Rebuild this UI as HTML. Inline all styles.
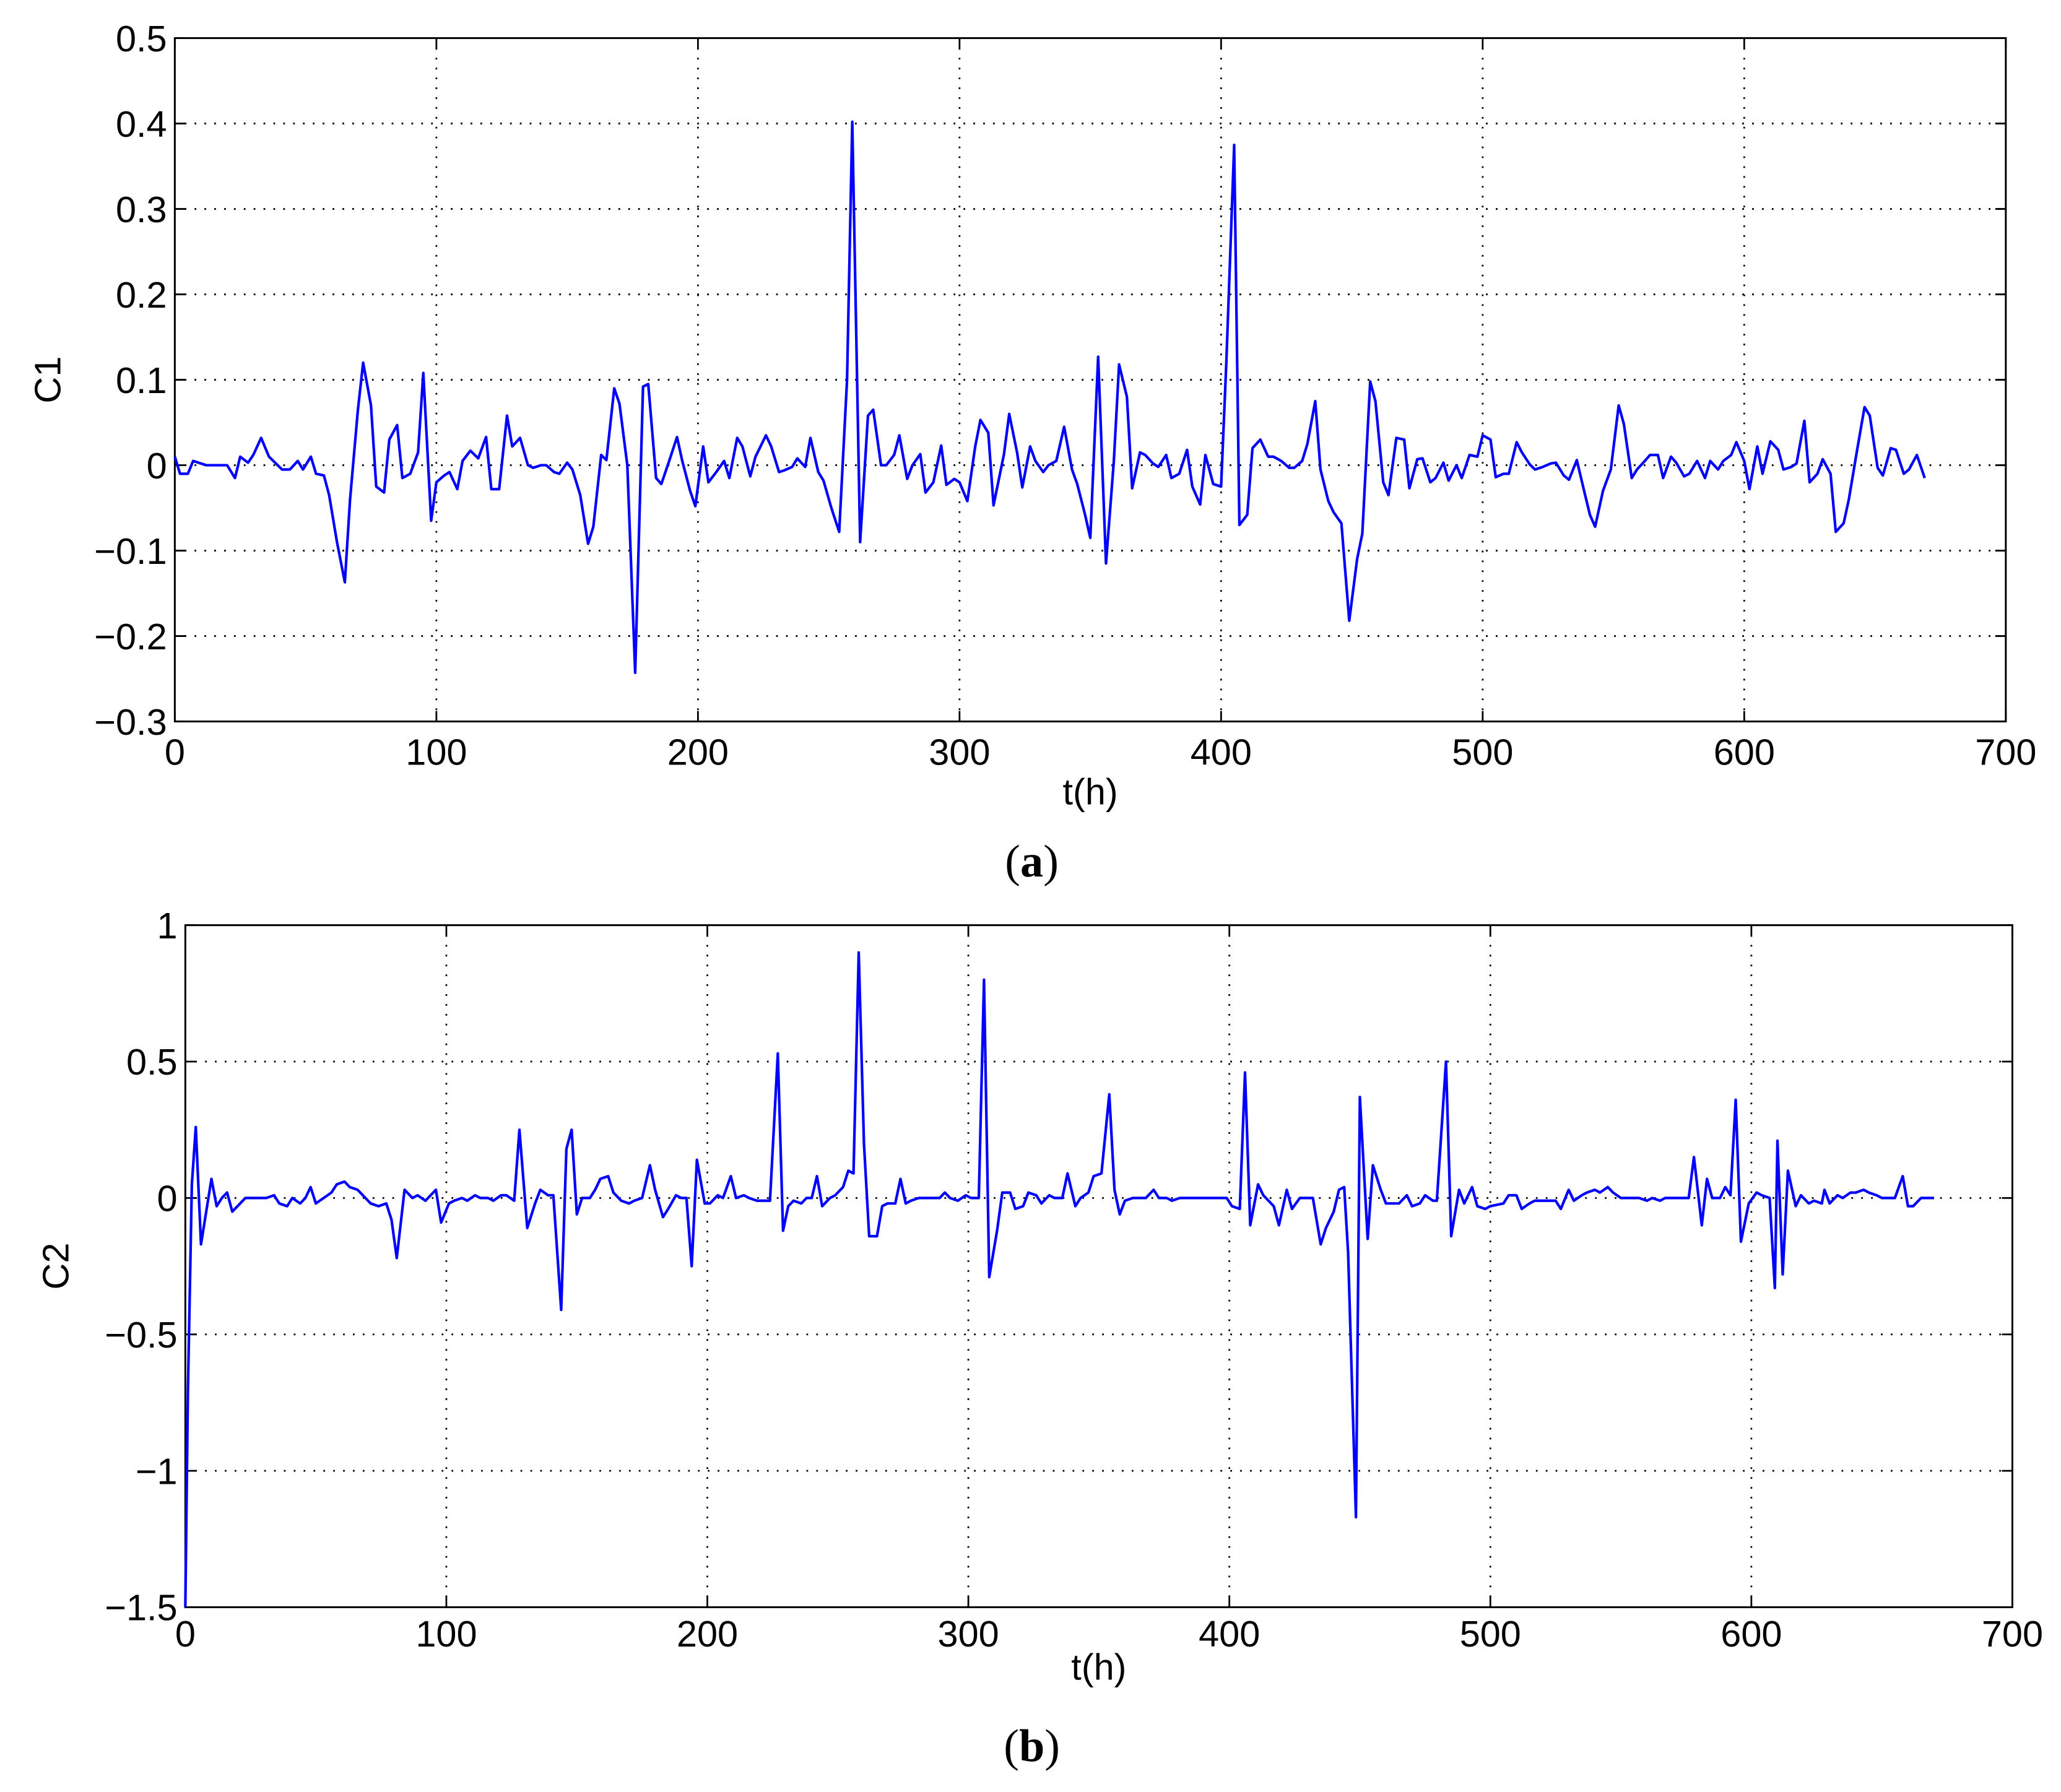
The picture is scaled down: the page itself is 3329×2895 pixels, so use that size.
<!DOCTYPE html>
<html><head><meta charset="utf-8"><style>html,body{margin:0;padding:0;background:#fff}svg{display:block}</style></head>
<body>
<svg id="fig" xmlns="http://www.w3.org/2000/svg" width="3329" height="2895" viewBox="0 0 1568 1363.6" preserveAspectRatio="none" font-family="'Liberation Sans', sans-serif">
<rect width="1568" height="1363.6" fill="#fff"/>
<g id="chartA"></g>
<g id="chartB"></g>
<text x="785" y="667" text-anchor="middle" font-family="'Liberation Serif', serif" font-size="35">(<tspan font-weight="bold">a</tspan>)</text>
<text x="785" y="1340" text-anchor="middle" font-family="'Liberation Serif', serif" font-size="35">(<tspan font-weight="bold">b</tspan>)</text>
</svg>
<script>
const xTicks = [0,100,200,300,400,500,600,700];
const yTicksA = [0.5,0.4,0.3,0.2,0.1,0,-0.1,-0.2,-0.3];
const yTicksB = [1,0.5,0,-0.5,-1,-1.5];
const yLabelsA = ["0.5","0.4","0.3","0.2","0.1","0","\u22120.1","\u22120.2","\u22120.3"];
const yLabelsB = ["1","0.5","0","\u22120.5","\u22121","\u22121.5"];
const tA = [0,2,5,7,12,20,23,25,28,30,33,36,41,44,47,49,52,54,57,59,62,65,67,70,72,75,77,80,82,85,87,90,93,95,98,100,103,105,108,110,113,116,119,121,124,127,129,132,135,137,140,142,145,147,150,152,155,158,160,163,165,168,170,173,176,179,181,184,186,189,192,194,197,199,202,204,207,210,212,215,217,220,222,226,228,231,233,236,238,241,243,246,248,251,254,257,259,262,265,267,270,272,275,277,280,282,285,287,290,293,295,298,300,303,306,308,311,313,317,319,322,324,327,329,332,334,337,340,343,345,348,350,353,356,359,361,364,366,369,371,374,376,379,381,384,387,389,392,394,397,400,402,405,407,410,412,415,418,420,423,426,428,431,433,436,438,441,443,446,449,452,454,457,459,462,464,467,470,472,475,477,480,482,485,487,490,492,495,498,500,503,505,508,510,513,515,518,520,523,526,528,531,533,536,538,541,543,546,549,552,554,557,559,562,564,567,569,572,574,577,579,582,585,587,590,592,595,597,600,602,605,607,610,613,615,618,620,623,625,628,630,633,635,638,640,643,646,648,651,653,656,658,661,663,666,669];
const vA = [0.01,-0.01,-0.01,0.005,0,0,-0.015,0.01,0.003,0.012,0.032,0.01,-0.005,-0.005,0.005,-0.005,0.01,-0.01,-0.012,-0.035,-0.09,-0.137,-0.04,0.065,0.12,0.07,-0.025,-0.032,0.03,0.047,-0.015,-0.01,0.015,0.108,-0.065,-0.02,-0.012,-0.008,-0.028,0.005,0.017,0.008,0.033,-0.028,-0.028,0.058,0.022,0.032,0,-0.003,0,0,-0.008,-0.01,0.003,-0.005,-0.035,-0.092,-0.072,0.012,0.006,0.09,0.072,0,-0.243,0.092,0.095,-0.015,-0.022,0.005,0.033,0.005,-0.03,-0.048,0.022,-0.02,-0.008,0.005,-0.015,0.032,0.022,-0.013,0.01,0.035,0.022,-0.008,-0.006,-0.002,0.008,-0.002,0.032,-0.008,-0.018,-0.05,-0.078,0.1,0.402,-0.09,0.058,0.065,0,0,0.012,0.035,-0.016,0,0.013,-0.032,-0.02,0.023,-0.023,-0.016,-0.02,-0.042,0.022,0.053,0.038,-0.047,0.013,0.06,0.015,-0.026,0.022,0.005,-0.008,0,0.005,0.045,-0.005,-0.022,-0.058,-0.085,0.127,-0.115,0.005,0.118,0.08,-0.027,0.015,0.012,0.002,-0.002,0.012,-0.015,-0.01,0.018,-0.025,-0.046,0.012,-0.022,-0.025,0.12,0.375,-0.07,-0.058,0.02,0.03,0.01,0.01,0.005,-0.003,-0.003,0.005,0.025,0.075,-0.005,-0.042,-0.055,-0.068,-0.182,-0.11,-0.08,0.098,0.075,-0.02,-0.035,0.032,0.03,-0.027,0.007,0.008,-0.02,-0.015,0.003,-0.018,0,-0.015,0.012,0.01,0.035,0.03,-0.014,-0.01,-0.01,0.027,0.015,0.001,-0.005,-0.002,0.002,0.003,-0.012,-0.017,0.006,-0.02,-0.058,-0.072,-0.03,-0.005,0.07,0.048,-0.015,-0.005,0.005,0.012,0.012,-0.015,0.01,0.003,-0.013,-0.01,0.005,-0.015,0.005,-0.005,0.005,0.012,0.027,0.005,-0.028,0.022,-0.01,0.028,0.018,-0.005,-0.002,0.002,0.052,-0.02,-0.01,0.007,-0.01,-0.078,-0.068,-0.04,0.015,0.068,0.058,-0.003,-0.012,0.02,0.018,-0.01,-0.005,0.012,-0.015];
const tB = [0,1,2.5,4,6,8,10,12,14,16,18,20,23,26,31,34,36,39,41,44,46,48,50,53,56,58,61,63,66,68,71,74,77,79,81,84,87,89,92,94,96,98,101,103,106,108,111,113,116,118,121,123,126,128,131,134,136,139,141,144,146,148,150,152,155,157,159,162,164,167,170,172,175,178,180,183,185,188,190,192,194,196,199,201,204,206,209,211,214,216,219,222,224,227,229,231,233,236,238,240,242,244,247,249,252,254,256,258,260,262,265,267,269,272,274,276,278,281,284,286,289,291,293,296,299,301,304,306,308,311,313,316,318,321,323,326,328,331,333,336,338,341,343,346,348,351,354,356,358,360,363,366,368,371,373,376,378,381,383,386,388,391,393,396,398,399,401,404,406,408,411,413,416,417,419,422,424,427,429,432,435,437,440,442,444,445.5,448.5,450,453,455,458,460,463,465,468,470,473,475,478,479.5,483,485,488,490,493,495,498,500,505,507,510,512,515,517,520,522,525,527,530,532,535,537,540,542,545,547,550,552,555,557,560,562,565,567,570,572,576,578,581,583,585,588,590,592,594,596,599,602,604,607,609,610,612,614,617,619,622,624,627,628,630,633,635,638,640,643,645,648,650,653,655,658,660,662,665,668,670];
const vB = [-1.5,-0.7,0.05,0.26,-0.17,-0.05,0.07,-0.03,0,0.02,-0.05,-0.03,0,0,0,0.01,-0.02,-0.03,0,-0.02,0,0.04,-0.02,0,0.02,0.05,0.06,0.04,0.03,0.01,-0.02,-0.03,-0.02,-0.08,-0.22,0.03,0,0.01,-0.01,0.01,0.03,-0.09,-0.02,-0.01,0,-0.01,0.01,0,0,-0.01,0.01,0.01,-0.01,0.25,-0.11,-0.02,0.03,0.01,0.01,-0.41,0.18,0.25,-0.06,0,0,0.03,0.07,0.08,0.02,-0.01,-0.02,-0.01,0,0.12,0.03,-0.07,-0.04,0.01,0,0,-0.25,0.14,-0.02,-0.02,0.01,0,0.08,0,0.01,0,-0.01,-0.01,-0.01,0.53,-0.12,-0.03,-0.01,-0.02,0,0,0.08,-0.03,0,0.01,0.04,0.1,0.09,0.9,0.2,-0.14,-0.14,-0.03,-0.02,-0.02,0.07,-0.02,-0.01,0,0,0,0,0.02,0,-0.01,0.01,0,0,0.8,-0.29,-0.12,0.02,0.02,-0.04,-0.03,0.02,0.01,-0.02,0.01,0,0,0.09,-0.03,0,0.02,0.08,0.09,0.38,0.03,-0.06,-0.01,0,0,0,0.03,0,0,-0.01,0,0,0,0,0,0,0,0,0,-0.03,-0.04,0.46,-0.1,0.05,0.01,-0.02,-0.03,-0.1,0.03,-0.04,0,0,0,-0.17,-0.11,-0.05,0.03,0.04,-0.2,-1.17,0.37,-0.15,0.12,0.03,-0.02,-0.02,-0.02,0.01,-0.03,-0.02,0.01,-0.01,-0.01,0.5,-0.14,0.03,-0.02,0.04,-0.03,-0.04,-0.03,-0.02,0.01,0.01,-0.04,-0.02,-0.01,-0.01,-0.01,-0.01,-0.04,0.03,-0.01,0.01,0.02,0.03,0.02,0.04,0.02,0,0,0,0,-0.01,0,-0.01,0,0,0,0,0.15,-0.1,0.07,0,0,0.04,0.01,0.36,-0.16,-0.02,0.02,0.01,0,-0.33,0.21,-0.28,0.1,-0.03,0.01,-0.02,-0.01,-0.02,0.03,-0.02,0.01,0,0.02,0.02,0.03,0.02,0.01,0,0,0,0.08,-0.03,-0.03,0,0,0];

const NS = "http://www.w3.org/2000/svg";
function mk(tag, attrs, parent){ const e=document.createElementNS(NS,tag); for(const k in attrs) e.setAttribute(k,attrs[k]); parent.appendChild(e); return e; }

function drawChart(g, box, yMin, yMax, yTicks, yLabels, ts, vs, ylab, ylabX, xTickY, xlabY){
  const sx = t => box.l + (t-0)/(700-0)*(box.r-box.l);
  const sy = v => box.b - (v-yMin)/(yMax-yMin)*(box.b-box.t);
  xTicks.forEach(t=>{
    if(t>0 && t<700){
      const gl = mk('line',{x1:sx(t),x2:sx(t),y1:box.t,y2:box.b,stroke:'#000','stroke-width':1.3,'stroke-dasharray':'1.3,6.2'},g);
      
      
    }
    const tk1 = mk('line',{x1:sx(t),x2:sx(t),y1:box.b,y2:box.b-8,stroke:'#000','stroke-width':1.3},g);
    
    
    const tk2 = mk('line',{x1:sx(t),x2:sx(t),y1:box.t,y2:box.t+8,stroke:'#000','stroke-width':1.3},g);
    
    
    const tx = mk('text',{x:sx(t),y:xTickY,'text-anchor':'middle','font-size':28},g);
    tx.textContent = String(t);
    
    
  });
  yTicks.forEach((v,i)=>{
    const y = sy(v);
    if(v>yMin && v<yMax){
      const gl = mk('line',{x1:box.l,x2:box.r,y1:y,y2:y,stroke:'#000','stroke-width':1.3,'stroke-dasharray':'1.3,6.2'},g);
      
      
    }
    const tk1 = mk('line',{x1:box.l,x2:box.l+8,y1:y,y2:y,stroke:'#000','stroke-width':1.3},g);
    
    
    const tk2 = mk('line',{x1:box.r,x2:box.r-8,y1:y,y2:y,stroke:'#000','stroke-width':1.3},g);
    
    
    const tx = mk('text',{x:box.l-6,y:y+10,'text-anchor':'end','font-size':28},g);
    tx.textContent = yLabels[i];
    
    
  });
  const frame = mk('rect',{x:box.l,y:box.t,width:box.r-box.l,height:box.b-box.t,fill:'none',stroke:'#000','stroke-width':1.4},g);
  
  
  const pts = ts.map((t,i)=>sx(t).toFixed(2)+','+sy(vs[i]).toFixed(2)).join(' ');
  const line = mk('polyline',{points:pts,fill:'none',stroke:'#0000ff','stroke-width':2,'stroke-linejoin':'round'},g);
  
  
  const xl = mk('text',{x:(box.l+box.r)/2,y:xlabY,'text-anchor':'middle','font-size':28},g);
  xl.textContent = 't(h)';
  
  
  const cy = (box.t+box.b)/2;
  const yl = mk('text',{x:ylabX,y:cy,'text-anchor':'middle','font-size':28,transform:'rotate(-90 '+ylabX+' '+cy+')'},g);
  yl.textContent = ylab;
  
  
}
drawChart(document.getElementById('chartA'), {l:133,r:1526,t:29,b:549}, -0.3, 0.5, yTicksA, yLabelsA, tA, vA, 'C1', 46, 582, 612);
drawChart(document.getElementById('chartB'), {l:141,r:1531,t:704,b:1223}, -1.5, 1, yTicksB, yLabelsB, tB, vB, 'C2', 52, 1253, 1278);
</script>
</body></html>
